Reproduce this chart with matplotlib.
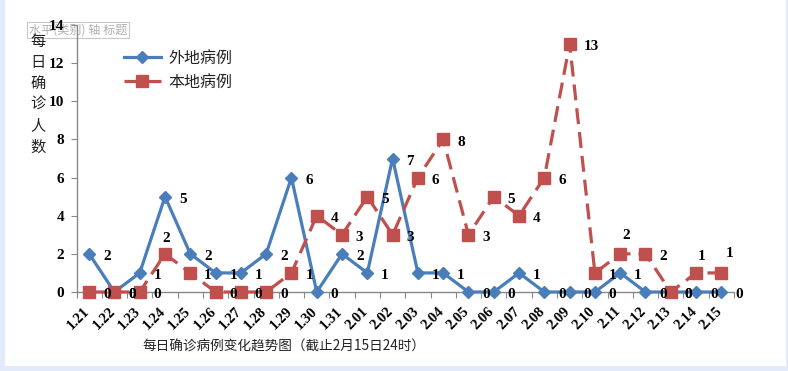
import matplotlib
matplotlib.use("Agg")
import matplotlib.pyplot as plt
from matplotlib.patches import Rectangle
from matplotlib.transforms import ScaledTranslation

# ---- data ----
dates = ["1.21", "1.22", "1.23", "1.24", "1.25", "1.26", "1.27", "1.28", "1.29", "1.30",
         "1.31", "2.01", "2.02", "2.03", "2.04", "2.05", "2.06", "2.07", "2.08", "2.09",
         "2.10", "2.11", "2.12", "2.13", "2.14", "2.15"]
imported_cases = [2, 0, 1, 5, 2, 1, 1, 2, 6, 0, 2, 1, 7, 1, 1, 0, 0, 1, 0, 0, 0, 1, 0, 0, 0, 0]
local_cases = [0, 0, 0, 2, 1, 0, 0, 0, 1, 4, 3, 5, 3, 6, 8, 3, 5, 4, 6, 13, 1, 2, 2, 0, 1, 1]
series_names = ["外地病例", "本地病例"]
y_ticks = [0, 2, 4, 6, 8, 10, 12, 14]
y_label = "每日确诊人数"
x_title = "每日确诊病例变化趋势图（截止2月15日24时）"
placeholder = "水平(类别) 轴 标题"

BLUE = "#4a7ebb"
RED = "#c0504d"
CJK = ["Noto Sans CJK SC", "DejaVu Sans"]
SERIF = ["Liberation Serif", "DejaVu Serif"]

W, H = 788, 371
fig = plt.figure(figsize=(W / 100, H / 100), dpi=100)
fig.patch.set_facecolor("#e3ebfb")
fig.patches.append(Rectangle((5 / W, 1 - 366 / H), (786 - 5) / W, 366 / H,
                             transform=fig.transFigure, facecolor="white",
                             edgecolor="none", zorder=-2))

left, right, top, bottom = 76.5, 734, 25, 292
ax = fig.add_axes([left / W, 1 - bottom / H, (right - left) / W, (bottom - top) / H])
ax.set_facecolor("none")
ax.set_zorder(1)

x = list(range(len(dates)))
ax.plot(x, imported_cases, color=BLUE, lw=2.3, marker="D", ms=6.5,
        label=series_names[0], clip_on=False, zorder=3)
ax.plot(x, local_cases, color=RED, lw=2.3, ls=(0, (5, 2.5)), marker="s", ms=8.5,
        label=series_names[1], clip_on=False, zorder=4)

ax.set_xlim(-0.5, len(dates) - 0.5)
ax.set_ylim(0, 14)
ax.set_yticks(y_ticks)
ax.set_yticklabels([str(v) for v in y_ticks], fontfamily=SERIF, fontweight="bold", fontsize=11)
ax.set_xticks([i - 0.5 for i in range(len(dates) + 1)], minor=False)
ax.set_xticklabels([])
ax.set_xticks(x, minor=True)
ax.set_xticklabels(dates, minor=True, rotation=45, ha="right", va="top",
                   rotation_mode="anchor", fontfamily=SERIF, fontweight="bold", fontsize=10.5)
ax.tick_params(axis="x", which="minor", length=0, pad=9)
ax.tick_params(axis="x", which="major", length=4, color="#888888", direction="out")
ax.tick_params(axis="y", length=4, color="#888888", pad=5)
shift = ScaledTranslation(-6 / 100, 0, fig.dpi_scale_trans)
for lab in ax.get_xticklabels(minor=True):
    lab.set_transform(lab.get_transform() + shift)
for s in ["top", "right"]:
    ax.spines[s].set_visible(False)
for s in ["left", "bottom"]:
    ax.spines[s].set_color("#888888")
    ax.spines[s].set_linewidth(1.0)

# data labels (a few sit above their markers, as in the source)
above = {(1, 3): (1, 11), (1, 21): (4, 13), (1, 24): (4, 12), (1, 25): (6, 14)}
for si, vals in enumerate([imported_cases, local_cases]):
    for i, v in enumerate(vals):
        if (si, i) in above:
            dx, dy = above[(si, i)]
            ax.annotate(str(v), (i, v), xytext=(dx, dy), textcoords="offset points",
                        ha="center", va="center", fontfamily=SERIF, fontweight="bold",
                        fontsize=11, annotation_clip=False, zorder=6)
        else:
            ax.annotate(str(v), (i, v), xytext=(10, -2), textcoords="offset points",
                        ha="left", va="center", fontfamily=SERIF, fontweight="bold",
                        fontsize=11, annotation_clip=False, zorder=6)

leg = ax.legend(loc="upper left", bbox_to_anchor=(124 / W, 1 - 50 / H),
                bbox_transform=fig.transFigure, frameon=False, borderpad=0,
                handlelength=2.3, handletextpad=0.45, labelspacing=0.4,
                borderaxespad=0,
                prop={"family": CJK, "size": 11.5})
for t in leg.get_texts():
    t.set_color("#222222")

fig.text(38 / W, 1 - 94 / H, "\n".join(y_label), ha="center", va="center",
         fontfamily=CJK, fontsize=11, linespacing=1.32, color="#222222")
fig.text(284 / W, 1 - 347 / H, x_title, ha="center", va="center",
         fontfamily=CJK, fontsize=9.8, color="#222222")
fig.text(29 / W, 1 - 30 / H, placeholder, ha="left", va="center",
         fontfamily=CJK, fontsize=8.7, color="#b0b0b0", zorder=0,
         bbox=dict(boxstyle="square,pad=0.15", facecolor="white", edgecolor="#c8c8c8", lw=0.8))

fig.savefig("out.png", dpi=100)
